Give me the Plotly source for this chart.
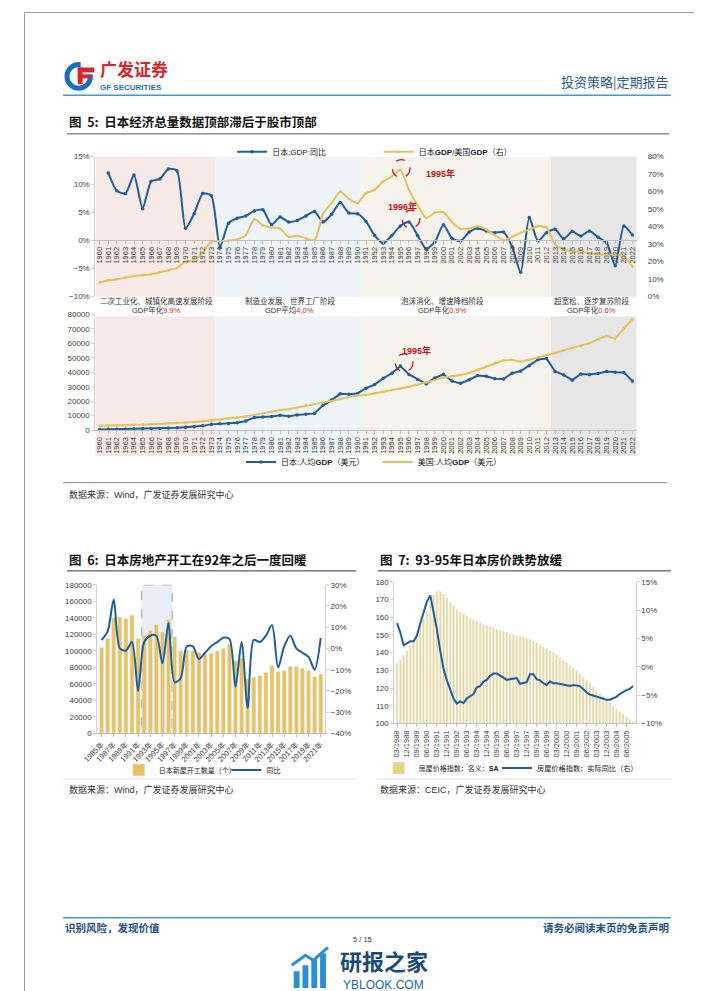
import plotly.graph_objects as go

W, H = 702, 991
def px(x): return x / W
def py(y): return 1 - y / H

# ---------------- data: figure 5 ----------------
years = list(range(1960, 2023))
jp_gdp_yoy = [None, 12.1, 8.9, 8.4, 11.7, 5.7, 10.6, 11.0, 12.8, 12.5,
              2.2, 4.8, 8.4, 8.0, -1.2, 3.1, 4.0, 4.4, 5.3, 5.5,
              2.8, 4.2, 3.3, 3.6, 4.4, 5.2, 3.3, 4.7, 6.8, 4.9,
              4.8, 3.4, 0.9, -0.5, 0.9, 2.6, 3.3, 0.9, -1.5, -0.3,
              2.8, 0.4, -0.1, 1.5, 2.2, 1.7, 1.4, 1.5, -1.1, -5.7,
              4.1, -0.1, 1.4, 2.0, 0.3, 1.6, 0.8, 1.7, 0.6, -0.4,
              -4.5, 2.6, 1.0]
jp_us_ratio = [8.0, 9.3, 9.8, 10.8, 11.7, 12.1, 12.7, 13.8, 15.0, 16.3,
               19.9, 20.8, 25.2, 31.3, 31.8, 31.8, 32.6, 35.0, 44.3, 40.7,
               39.4, 38.8, 34.1, 34.7, 33.3, 32.2, 47.3, 53.4, 60.0, 55.9,
               53.5, 59.1, 61.0, 65.9, 68.6, 72.3, 61.0, 52.1, 44.9, 47.9,
               48.3, 42.6, 38.8, 38.8, 40.2, 38.3, 35.0, 32.2, 34.1, 36.4,
               38.3, 40.2, 39.4, 29.9, 26.9, 25.6, 25.9, 24.6, 24.2, 23.9,
               24.1, 23.1, 17.0]
jp_gdp_pc = [479, 563, 633, 717, 836, 919, 1058, 1228, 1450, 1669,
             2037, 2272, 2967, 3997, 4354, 4659, 5197, 6335, 8821, 9105,
             9463, 10361, 9578, 10425, 10984, 11585, 17112, 20745, 25051, 24813,
             25359, 28925, 31465, 35766, 39269, 44198, 38437, 35022, 31903, 36027,
             38532, 33846, 32289, 34808, 37689, 37218, 35434, 35275, 39339, 40855,
             44508, 48700, 49500, 40454, 38109, 34524, 38795, 38387, 39159, 40416,
             39918, 39827, 34000]
us_gdp_pc = [3007, 3067, 3244, 3375, 3574, 3828, 4146, 4336, 4696, 5032,
             5234, 5609, 6094, 6726, 7226, 7801, 8592, 9453, 10565, 11674,
             12575, 13976, 14434, 15544, 17121, 18237, 19071, 20039, 21417, 22857,
             23889, 24342, 25419, 26387, 27695, 28691, 29968, 31459, 32854, 34516,
             36330, 37134, 37998, 39490, 41725, 44123, 46302, 48050, 48570, 47195,
             48651, 50066, 51784, 53291, 55124, 56763, 57867, 59915, 62805, 65095,
             63028, 70249, 76399]
stages = [  # (start, end, fill)
    (1959.5, 1973.5, "#f7e9e6"),
    (1973.5, 1990.5, "#eef3f8"),
    (1990.5, 2012.5, "#f5f3eb"),
    (2012.5, 2022.5, "#e6e6e6"),
]
stage_names = ["二次工业化、城镇化高速发展阶段", "制造业发展、世界工厂阶段",
               "泡沫消化、增速降档阶段", "超宽松、逐步复苏阶段"]
stage_prefix = ["GDP年化", "GDP平均", "GDP年化", "GDP年化"]
stage_growth = ["9.9%", "4.0%", "0.9%", "0.6%"]
stage_label_x = [136, 272, 428, 581]

# ---------------- data: figure 6 ----------------
f6_years = list(range(1985, 2022))
f6_starts = [104000, 115000, 140000, 141000, 139000, 143000, 115000, 119000, 125000, 132000,
             123000, 138000, 117000, 100000, 101000, 100000, 98000, 96000, 97000, 100000,
             103000, 108000, 88000, 91000, 66000, 68000, 70000, 74000, 82000, 75000,
             76000, 81000, 81000, 79000, 76000, 69000, 72000]
f6_yoy = [4, 8, 23, 0, -1, 3, -20, 3, 6, 6,
          -7, 12, -16, -14, 1, 1, -5, -2, 1, 3,
          5, 4.5, -18, 3, -28, 4, 3, 6, 11, -9,
          1, 6, 0, -2, -4, -10, 5]

# ---------------- data: figure 7 ----------------
f7_quarters = [f"{m:02d}/{y}" for y in range(1988, 2006) for m in (3, 6, 9, 12)]
f7_hpi = [134, 136, 138.5, 141, 144, 147, 151, 155, 159, 163.5, 168, 172.5,
          174.5, 174.5, 173, 171, 168.5, 166.5, 164.5, 163, 162, 160.5, 159.5, 158.5,
          157.5, 156.8, 156, 155.3, 154.6, 154, 153.3, 152.7, 152, 151.4, 150.8, 150.2,
          149.7, 149.2, 148.7, 148.1, 147.4, 146.6, 145.6, 144.6, 143.5, 142.4, 141.2, 140,
          138.7, 137.3, 135.9, 134.4, 132.9, 131.4, 129.8, 128.1, 126.3, 124.4, 122.6, 120.7,
          118.8, 117, 115.2, 113.4, 111.6, 109.9, 108.3, 106.7, 105.2, 103.8, 102.5, 101.3]
f7_yoy = [7.7, 6.0, 3.8, 4.1, 4.5, 4.5, 5.5, 7.7, 9.8, 11.5, 12.6, 9.8,
          6.6, 2.8, -0.4, -2.4, -4.2, -5.6, -6.5, -6.1, -6.4, -5.6, -5.2, -4.8,
          -3.6, -3.4, -2.6, -2.3, -1.6, -1.2, -1.2, -1.5, -1.9, -2.3, -2.2, -2.0,
          -2.0, -3.0, -2.9, -2.7, -1.3, -1.3, -2.2, -2.4, -2.9, -3.2, -2.6, -2.9,
          -2.9, -3.0, -3.1, -3.2, -3.4, -3.2, -3.3, -3.4, -3.9, -4.5, -4.9, -5.1,
          -5.3, -5.5, -5.6, -5.8, -5.8, -5.6, -5.3, -4.8, -4.4, -4.1, -3.9, -3.4]

# ---------------- styling ----------------
BLUE = "#1f5d9c"
GOLD = "#e3c25c"
BAR6 = "#e6c463"
BAR7 = "#ecd384"
TXT = "#404040"
FONT = "Liberation Sans, Arial, Noto Sans CJK SC"
CJK = "Noto Sans CJK SC"

fig = go.Figure()

# Figure 5 (top)
fig.add_trace(go.Scatter(x=years, y=jp_gdp_yoy, name="日本:GDP:同比", mode="lines+markers",
                         line=dict(color=BLUE, width=2, shape="spline", smoothing=0.6),
                         marker=dict(size=3.5, color=BLUE), xaxis="x", yaxis="y", legend="legend"))
fig.add_trace(go.Scatter(x=years, y=jp_us_ratio, name="日本<b>GDP</b>/美国<b>GDP</b>（右）", mode="lines+markers",
                         line=dict(color=GOLD, width=2, shape="spline", smoothing=0.6),
                         marker=dict(size=2.5, color=GOLD), xaxis="x", yaxis="y2", legend="legend2"))
# Figure 5 (bottom)
fig.add_trace(go.Scatter(x=years, y=jp_gdp_pc, name="日本:人均<b>GDP</b>（美元）", mode="lines+markers",
                         line=dict(color=BLUE, width=2), marker=dict(size=3.5, color=BLUE),
                         xaxis="x2", yaxis="y3", legend="legend3"))
fig.add_trace(go.Scatter(x=years, y=us_gdp_pc, name="美国:人均<b>GDP</b>（美元）", mode="lines+markers",
                         line=dict(color=GOLD, width=2), marker=dict(size=2.5, color=GOLD),
                         xaxis="x2", yaxis="y3", legend="legend4"))
# Figure 6
fig.add_trace(go.Bar(x=f6_years, y=f6_starts, name="日本新屋开工数量（个）", marker_color=BAR6,
                     width=0.68, xaxis="x3", yaxis="y4", legend="legend5"))
fig.add_trace(go.Scatter(x=f6_years, y=f6_yoy, name="同比", mode="lines",
                         line=dict(color=BLUE, width=2, shape="spline", smoothing=0.8),
                         xaxis="x3", yaxis="y5", legend="legend6"))
# Figure 7
fig.add_trace(go.Bar(x=f7_quarters, y=f7_hpi, name="房屋价格指数：名义：<b>SA</b>", marker_color=BAR7,
                     width=0.55, xaxis="x4", yaxis="y6", legend="legend7"))
fig.add_trace(go.Scatter(x=f7_quarters, y=f7_yoy, name="房屋价格指数：实际同比（右）", mode="lines",
                         line=dict(color=BLUE, width=2), xaxis="x4", yaxis="y7", legend="legend8"))

tick = dict(size=8, color=TXT, family=FONT)
ax_common = dict(showgrid=False, zeroline=False, tickfont=tick)
yline = dict(showline=True, linecolor="#d0d0d0", ticks="outside", ticklen=3, tickcolor="#d0d0d0")
xline = dict(showline=True, linecolor="#bfbfbf", ticks="outside", ticklen=3, tickcolor="#bfbfbf",
             showgrid=False, zeroline=False, tickfont=dict(size=7.5, color=TXT, family=FONT))

layout = dict(
    width=W, height=H, autosize=False, margin=dict(l=0, r=0, t=0, b=0),
    paper_bgcolor="white", plot_bgcolor="rgba(0,0,0,0)",
    font=dict(family=FONT, color=TXT, size=9),
    barmode="overlay", showlegend=True,
    # fig5 top
    xaxis=dict(domain=[px(73), px(627)], range=[1959.5, 2022.5], anchor="free", position=py(230),
               tickmode="array", tickvals=years, ticktext=[str(y) for y in years], tickangle=-90, **xline),
    yaxis=dict(domain=[py(287), py(146)], range=[-10, 15], dtick=5, ticksuffix="%",
               anchor="x", **yline, **ax_common),
    yaxis2=dict(overlaying="y", side="right", range=[0, 80], dtick=10, ticksuffix="%",
                anchor="x", ticklabelstandoff=10, **ax_common),
    # fig5 bottom
    xaxis2=dict(domain=[px(73), px(627)], range=[1959.5, 2022.5], anchor="y3",
                tickmode="array", tickvals=years, ticktext=[str(y) for y in years], tickangle=-90, **xline),
    yaxis3=dict(domain=[py(422), py(305)], range=[0, 80000], dtick=10000, tickformat="d", anchor="x2",
                **yline, **ax_common),
    # fig6
    xaxis3=dict(domain=[px(75), px(308)], range=[1984.3, 2021.7], anchor="y4",
                tickmode="array", tickvals=f6_years[::2], ticktext=[f"{y}年" for y in f6_years[::2]],
                tickangle=-45, **xline),
    yaxis4=dict(domain=[py(728), py(578)], range=[0, 180000], dtick=20000, tickformat="d", anchor="x3",
                **yline, **ax_common),
    yaxis5=dict(overlaying="y4", side="right", range=[-40, 30], dtick=10, ticksuffix="%", anchor="x3",
                **yline, **ax_common),
    # fig7
    xaxis4=dict(domain=[px(379), px(626)], range=[-0.8, 71.8], anchor="y6", type="category",
                tickmode="array", tickvals=f7_quarters[::3], ticktext=f7_quarters[::3], tickangle=-90,
                **xline),
    yaxis6=dict(domain=[py(718), py(575)], range=[100, 180], dtick=10, anchor="x4",
                **yline, **ax_common),
    yaxis7=dict(overlaying="y6", side="right", range=[-10, 15], dtick=5, ticksuffix="%", anchor="x4",
                **yline, **ax_common),
)

def leg(x, y, size=8):
    return dict(x=px(x), y=py(y), xanchor="left", yanchor="middle", orientation="h",
                bgcolor="rgba(0,0,0,0)", font=dict(size=size, color="#222", family=FONT),
                itemwidth=30, tracegroupgap=0, visible=True)

layout["legend"] = leg(213, 141)
layout["legend2"] = leg(363, 141)
layout["legend3"] = leg(222, 454)
layout["legend4"] = leg(362, 454)
layout["legend5"] = leg(97, 765, 7)
layout["legend6"] = leg(207, 765, 7.2)
layout["legend7"] = leg(363, 763, 7)
layout["legend8"] = leg(484, 763, 7.2)
fig.update_layout(**layout)

shapes = []
# page border
shapes.append(dict(type="rect", xref="paper", yref="paper", x0=px(0.5), x1=px(701.5), y0=py(990.5), y1=py(0.5),
                   line=dict(color="#9a9a9a", width=1)))
# stage shading
for x0, x1, c in stages:
    shapes.append(dict(type="rect", xref="x", yref="paper", x0=x0, x1=x1, y0=py(287), y1=py(146),
                       fillcolor=c, line=dict(width=0), layer="below"))
    shapes.append(dict(type="rect", xref="x2", yref="paper", x0=x0, x1=x1, y0=py(448), y1=py(307),
                       fillcolor=c, line=dict(width=0), layer="below"))
# fig6 highlight box
shapes.append(dict(type="rect", xref="x3", yref="y4", x0=1991.6, x1=1996.6, y0=0, y1=180000,
                   fillcolor="#e9edf7", line=dict(color="#9a9a9a", width=1, dash="dash"), layer="below"))
# dashed circles
for cx, cy, r in [(386, 158, 9), (396, 209, 9), (389, 354, 9)]:
    shapes.append(dict(type="circle", xref="paper", yref="paper", x0=px(cx - r), x1=px(cx + r),
                       y0=py(cy + r), y1=py(cy - r), line=dict(color="#c0141c", width=1.3, dash="dash")))
# rules
def hline(y, x0, x1, color, w):
    shapes.append(dict(type="line", xref="paper", yref="paper", x0=px(x0), x1=px(x1), y0=py(y), y1=py(y),
                       line=dict(color=color, width=w)))
hline(84, 40, 662, "#3b9ad9", 1.5)
hline(123, 44, 660, "#555555", 1)
hline(475, 40, 658, "#8a8a8a", 1)
hline(564, 44, 340, "#333333", 1)
hline(564, 362, 662, "#333333", 1)
hline(774, 40, 340, "#e0e0e0", 1)
hline(774, 360, 662, "#e0e0e0", 1)
hline(914, 40, 662, "#3b9ad9", 1.5)
# logo
shapes.append(dict(type="circle", xref="paper", yref="paper", x0=px(44), x1=px(68), y0=py(77), y1=py(53),
                   line=dict(color="#1c6fc0", width=5)))
shapes.append(dict(type="rect", xref="paper", yref="paper", x0=px(58), x1=px(72), y0=py(63), y1=py(50),
                   fillcolor="white", line=dict(width=0)))
shapes.append(dict(type="rect", xref="paper", yref="paper", x0=px(55), x1=px(72), y0=py(61), y1=py(56),
                   fillcolor="#d9262e", line=dict(width=0)))
shapes.append(dict(type="rect", xref="paper", yref="paper", x0=px(55), x1=px(60), y0=py(73), y1=py(56),
                   fillcolor="#d9262e", line=dict(width=0)))
shapes.append(dict(type="rect", xref="paper", yref="paper", x0=px(55), x1=px(68), y0=py(67), y1=py(63),
                   fillcolor="#d9262e", line=dict(width=0)))
# watermark icon
for x0, top in [(276, 968), (285, 962), (294, 956), (303, 950)]:
    shapes.append(dict(type="rect", xref="paper", yref="paper", x0=px(x0), x1=px(x0 + 6), y0=py(985), y1=py(top),
                       fillcolor="#2b8ed6", line=dict(width=0)))
shapes.append(dict(type="path", xref="paper", yref="paper",
                   path=f"M {px(274)},{py(962)} L {px(288)},{py(952)} L {px(296)},{py(957)} L {px(311)},{py(944)}",
                   line=dict(color="#2b8ed6", width=3)))
fig.update_layout(shapes=shapes)

ann = []
def text(x, y, s, size=9, color="#222", anchor="left", bold=False, family=FONT, yanchor="middle"):
    ann.append(dict(x=px(x), y=py(y), xref="paper", yref="paper", text=f"<b>{s}</b>" if bold else s,
                    showarrow=False, xanchor=anchor, yanchor=yanchor,
                    font=dict(size=size, color=color, family=family)))

# header
text(76, 57, "广发证券", 17, "#d9262e", bold=True, family=CJK)
text(76, 76, "GF SECURITIES", 8, "#1c6fc0", bold=True)
text(662, 70, "投资策略|定期报告", 13, "#2a5b8f", anchor="right", family=CJK)
text(44, 111, "图  5:  日本经济总量数据顶部滞后于股市顶部", 12.5, "#111", bold=True, family=CJK)
# stage labels
for i in range(4):
    text(stage_label_x[i], 291, stage_names[i], 7.5, "#333", anchor="center", family=CJK)
    text(stage_label_x[i], 301, f"{stage_prefix[i]}<span style='color:#d22'>{stage_growth[i]}</span>",
         7.5, "#333", anchor="center")
# annotations on charts
text(409, 163, "1995年", 9, "#c0141c", bold=True)
text(370, 196, "1996年", 9, "#c0141c", bold=True)
text(385, 342, "1995年", 9, "#c0141c", bold=True)
# sources
text(44, 487, "数据来源：Wind，广发证券发展研究中心", 9, "#333")
text(44, 785, "数据来源：Wind，广发证券发展研究中心", 9, "#333")
text(362, 785, "数据来源：CEIC，广发证券发展研究中心", 9, "#333")
# fig 6/7 titles
text(44, 553, "图  6:  日本房地产开工在92年之后一度回暖", 12.5, "#111", bold=True, family=CJK)
text(362, 553, "图  7:  93-95年日本房价跌势放缓", 12.5, "#111", bold=True, family=CJK)
# footer
text(40, 924, "识别风险，发现价值", 10.5, "#1f4e8c", bold=True, family=CJK)
text(662, 924, "请务必阅读末页的免责声明", 10.5, "#1f4e8c", anchor="right", bold=True, family=CJK)
text(346, 936, "5 / 15", 7.5, "#333", anchor="center")
text(321, 957, "研报之家", 22, "#1b4a78", bold=True, family=CJK)
text(324, 982, "YBLOOK.COM", 12, "#1c6aa8")
fig.update_layout(annotations=ann)

fig.write_html("out.html")
